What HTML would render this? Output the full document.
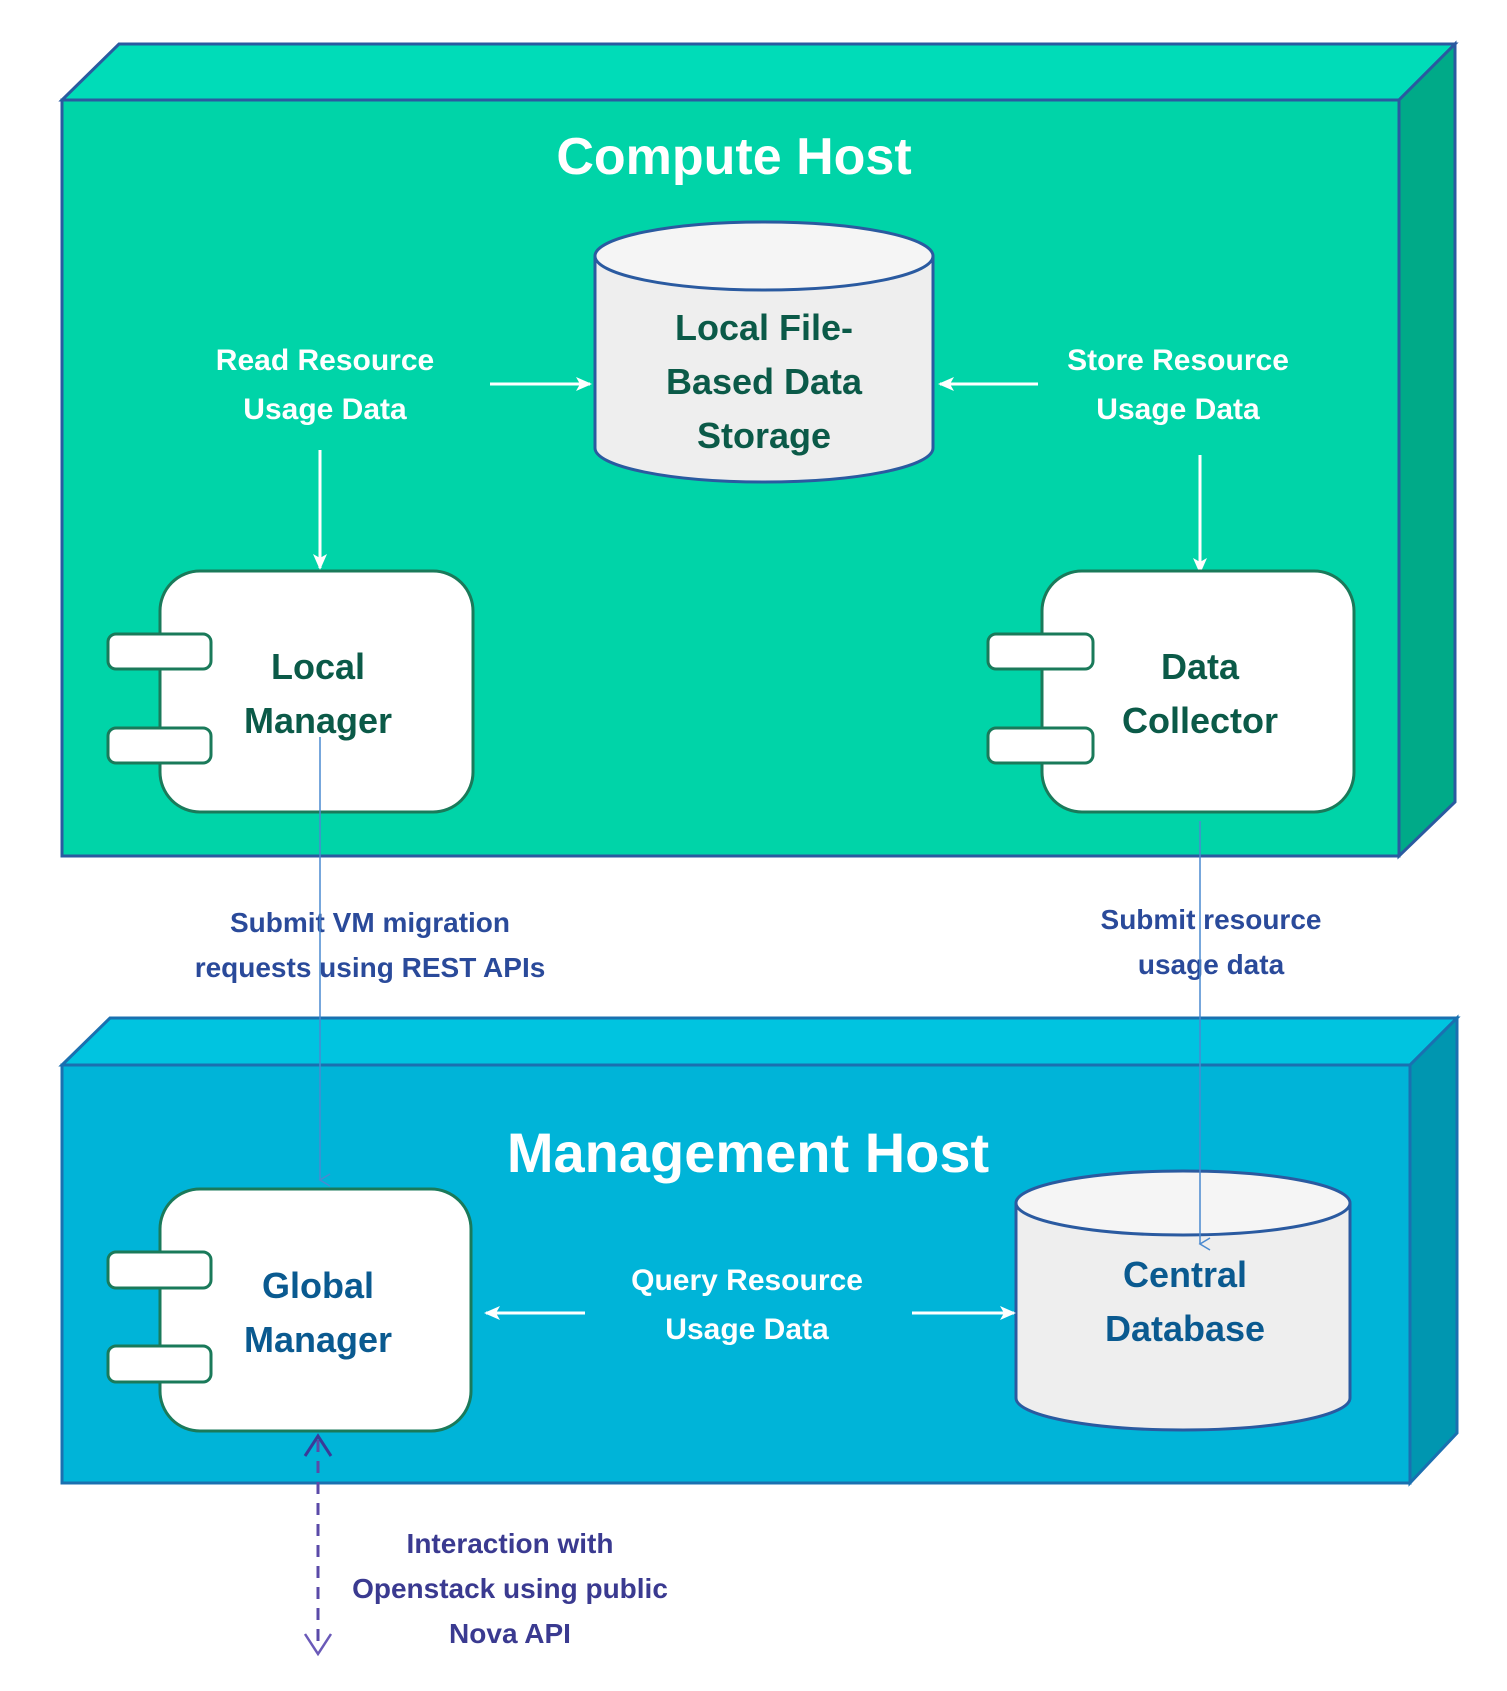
<!DOCTYPE html>
<html><head><meta charset="utf-8"><style>
html,body{margin:0;padding:0;background:#fff;}
svg{display:block;}
text{font-family:"Liberation Sans",sans-serif;font-weight:bold;text-anchor:middle;}
</style></head><body>
<svg width="1507" height="1691" viewBox="0 0 1507 1691" xmlns="http://www.w3.org/2000/svg">
<defs>
<marker id="aw" markerWidth="18" markerHeight="18" refX="14" refY="8" orient="auto" markerUnits="userSpaceOnUse"><path d="M0,1 L16,8 L0,15 L4,8 Z" fill="#fff"/></marker>
<marker id="ab" markerWidth="14" markerHeight="14" refX="7" refY="11" orient="auto" markerUnits="userSpaceOnUse"><path d="M1,1 L7,11 L13,1" fill="none" stroke="#4a8ad0" stroke-width="1.5"/></marker>
</defs>
<polygon points="62,100 119,44 1455,44 1399,100" fill="#00dcb8" stroke="#2a5aa0" stroke-width="3"/>
<polygon points="1399,100 1455,44 1455,802 1399,856" fill="#00aa88" stroke="#2a5aa0" stroke-width="3"/>
<rect x="62" y="100" width="1337" height="756" fill="#00d4a8" stroke="#2a5aa0" stroke-width="3"/>
<text x="734" y="174" font-size="52" fill="#fff">Compute Host</text>
<path d="M595,256 L595,448 A169,34 0 0 0 933,448 L933,256" fill="#eeeeee" stroke="#2a5aa0" stroke-width="3"/>
<ellipse cx="764" cy="256" rx="169" ry="34" fill="#f5f5f5" stroke="#2a5aa0" stroke-width="3"/>
<text x="764" y="340" font-size="36" fill="#0b5a48">Local File-</text>
<text x="764" y="394" font-size="36" fill="#0b5a48">Based Data</text>
<text x="764" y="448" font-size="36" fill="#0b5a48">Storage</text>
<text x="325" y="370" font-size="30" fill="#fff">Read Resource</text>
<text x="325" y="419" font-size="30" fill="#fff">Usage Data</text>
<text x="1178" y="370" font-size="30" fill="#fff">Store Resource</text>
<text x="1178" y="419" font-size="30" fill="#fff">Usage Data</text>
<line x1="490" y1="384" x2="590" y2="384" stroke="#fff" stroke-width="3" marker-end="url(#aw)"/>
<line x1="1038" y1="384" x2="940" y2="384" stroke="#fff" stroke-width="3" marker-end="url(#aw)"/>
<line x1="320" y1="450" x2="320" y2="568" stroke="#fff" stroke-width="3" marker-end="url(#aw)"/>
<line x1="1200" y1="455" x2="1200" y2="572" stroke="#fff" stroke-width="3" marker-end="url(#aw)"/>
<rect x="160" y="571" width="313" height="241" rx="40" fill="#fff" stroke="#1a7a5a" stroke-width="3"/>
<rect x="108" y="634" width="103" height="35" rx="8" fill="#fff" stroke="#1a7a5a" stroke-width="3"/>
<rect x="108" y="728" width="103" height="35" rx="8" fill="#fff" stroke="#1a7a5a" stroke-width="3"/>
<text x="318" y="679" font-size="36" fill="#0b5a48">Local</text>
<text x="318" y="733" font-size="36" fill="#0b5a48">Manager</text>
<rect x="1042" y="571" width="312" height="241" rx="40" fill="#fff" stroke="#1a7a5a" stroke-width="3"/>
<rect x="988" y="634" width="105" height="35" rx="8" fill="#fff" stroke="#1a7a5a" stroke-width="3"/>
<rect x="988" y="728" width="105" height="35" rx="8" fill="#fff" stroke="#1a7a5a" stroke-width="3"/>
<text x="1200" y="679" font-size="36" fill="#0b5a48">Data</text>
<text x="1200" y="733" font-size="36" fill="#0b5a48">Collector</text>
<text x="370" y="932" font-size="28" fill="#2a4a9a">Submit VM migration</text>
<text x="370" y="977" font-size="28" fill="#2a4a9a">requests using REST APIs</text>
<text x="1211" y="929" font-size="28" fill="#2a4a9a">Submit resource</text>
<text x="1211" y="974" font-size="28" fill="#2a4a9a">usage data</text>
<polygon points="62,1065 110,1018 1457,1018 1410,1065" fill="#00c4e0" stroke="#1a70b0" stroke-width="3"/>
<polygon points="1410,1065 1457,1018 1457,1433 1410,1483" fill="#0096b0" stroke="#1a70b0" stroke-width="3"/>
<rect x="62" y="1065" width="1348" height="418" fill="#00b4d8" stroke="#1a70b0" stroke-width="3"/>
<text x="748" y="1172" font-size="56" fill="#fff">Management Host</text>
<rect x="160" y="1189" width="311" height="242" rx="40" fill="#fff" stroke="#1a7a5a" stroke-width="3"/>
<rect x="108" y="1252" width="103" height="36" rx="8" fill="#fff" stroke="#1a7a5a" stroke-width="3"/>
<rect x="108" y="1346" width="103" height="36" rx="8" fill="#fff" stroke="#1a7a5a" stroke-width="3"/>
<text x="318" y="1298" font-size="36" fill="#0a5a90">Global</text>
<text x="318" y="1352" font-size="36" fill="#0a5a90">Manager</text>
<path d="M1016,1203 L1016,1398 A167,32 0 0 0 1350,1398 L1350,1203" fill="#eeeeee" stroke="#2a5aa0" stroke-width="3"/>
<ellipse cx="1183" cy="1203" rx="167" ry="32" fill="#f5f5f5" stroke="#2a5aa0" stroke-width="3"/>
<text x="1185" y="1287" font-size="36" fill="#0a5a90">Central</text>
<text x="1185" y="1341" font-size="36" fill="#0a5a90">Database</text>
<text x="747" y="1290" font-size="30" fill="#fff">Query Resource</text>
<text x="747" y="1339" font-size="30" fill="#fff">Usage Data</text>
<line x1="585" y1="1313" x2="486" y2="1313" stroke="#fff" stroke-width="3" marker-end="url(#aw)"/>
<line x1="912" y1="1313" x2="1014" y2="1313" stroke="#fff" stroke-width="3" marker-end="url(#aw)"/>
<line x1="320" y1="737" x2="320" y2="1180" stroke="#4a8ad0" stroke-width="1.5" marker-end="url(#ab)"/>
<line x1="1200" y1="821" x2="1200" y2="1244" stroke="#4a8ad0" stroke-width="1.5" marker-end="url(#ab)"/>
<line x1="318" y1="1440" x2="318" y2="1650" stroke="#5a4aa8" stroke-width="3" stroke-dasharray="12,9"/>
<path d="M305,1456 L318,1436 L331,1456" fill="none" stroke="#3a3a98" stroke-width="3"/>
<path d="M305,1634 L318,1654 L331,1634" fill="none" stroke="#6a5ab8" stroke-width="2.5"/>
<text x="510" y="1553" font-size="28" fill="#3a3a90">Interaction with</text>
<text x="510" y="1598" font-size="28" fill="#3a3a90">Openstack using public</text>
<text x="510" y="1643" font-size="28" fill="#3a3a90">Nova API</text>
</svg>
</body></html>
